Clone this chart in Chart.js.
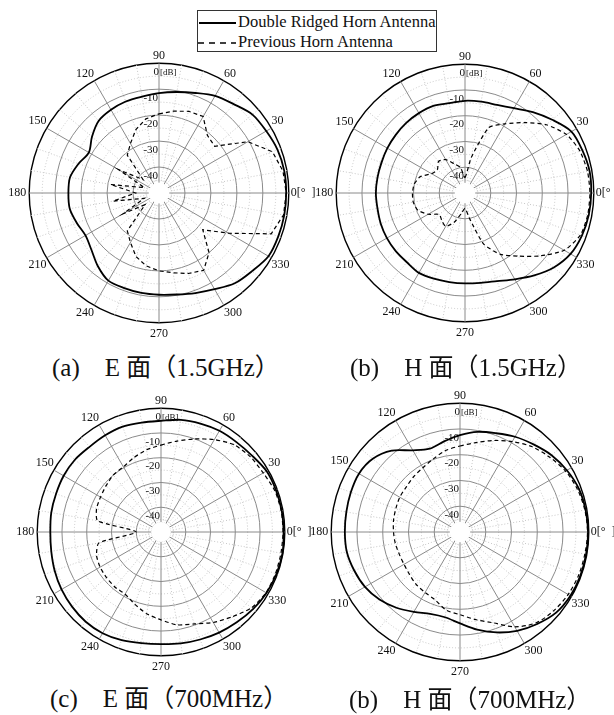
<!DOCTYPE html>
<html lang="ja">
<head>
<meta charset="utf-8">
<title>Radiation patterns</title>
<script src="https://cdn.jsdelivr.net/npm/chart.js@4.4.1/dist/chart.umd.min.js"></script>
<style>
  html, body { margin: 0; padding: 0; background: #fff; }
  #page { position: relative; width: 614px; height: 715px; overflow: hidden; font-family: "Liberation Serif", "Noto Sans CJK JP", serif; color: #111; }
  #page canvas { position: absolute; }
  .caption { position: absolute; font-size: 25px; line-height: 25px; white-space: nowrap; }
  #legend { position: absolute; left: 197px; top: 10px; width: 240px; height: 42px; box-sizing: border-box; border: 1px solid #333; background: #fff; font-size: 16.5px; z-index: 2; }
  #legend .row { position: absolute; left: 0; height: 18px; line-height: 18px; white-space: nowrap; }
  #legend svg { vertical-align: middle; }
</style>
</head>
<body>
<div id="page">
  <div id="legend">
    <div class="row" style="top:2px"><svg width="40" height="10"><line x1="1" y1="5" x2="38" y2="5" stroke="#000" stroke-width="2"/></svg>Double Ridged Horn Antenna</div>
    <div class="row" style="top:22px"><svg width="40" height="10"><line x1="0" y1="5" x2="38" y2="5" stroke="#000" stroke-width="1.3" stroke-dasharray="6 5"/></svg>Previous Horn Antenna</div>
  </div>

  <canvas id="chartA" width="365" height="295" style="left:-23px; top:48px"></canvas>
  <canvas id="chartB" width="363" height="293" style="left:284px; top:49px"></canvas>
  <canvas id="chartC" width="353" height="283" style="left:-15px; top:393px"></canvas>
  <canvas id="chartD" width="363" height="293" style="left:279px; top:388px"></canvas>

  <div class="caption" style="left:52px; top:355px">(a)　E 面（1.5GHz）</div>
  <div class="caption" style="left:350px; top:355px">(b)　H 面（1.5GHz）</div>
  <div class="caption" style="left:50px; top:686px">(c)　E 面（700MHz）</div>
  <div class="caption" style="left:349px; top:687px">(b)　H 面（700MHz）</div>
</div>

<script>
// angles in degrees, counter-clockwise from the right (0 = boresight)
const ANGLES = [0, 10, 20, 30, 40, 50, 60, 70, 80, 90, 100, 110,
                120, 130, 140, 150, 160, 170, 180, 190, 200, 210, 220, 230,
                240, 250, 260, 270, 280, 290, 300, 310, 320, 330, 340, 350];
const ANGLE_LABELS = [0, 30, 60, 90, 120, 150, 180, 210, 240, 270, 300, 330];
const TICK_LABELS = [-40, -30, -20, -10, 0];
const HOLE_DB = -46;

// relative gain [dB], one value per entry of ANGLES
const e15Ridged = [-1, -1, -1.4, -2.3, -3, -5.3, -6.8, -9, -10.5, -11.5, -12.3, -12.5,
                   -13, -13.8, -16.3, -18.8, -17, -15.2, -15.1, -15.1, -16.3, -17.3, -16, -13.3,
                   -11, -11, -10.9, -10.8, -10.3, -9, -7.2, -4.6, -3.2, -1.3, -1.1, -1];
const e15Previous = [-1, -1.5, -3.5, -10.5, -22, -21, -16, -16.5, -18, -19.5, -21, -24,
                     -28, -31, -42, -32, -44, -31, -41, -32, -44, -34, -43, -31,
                     -28, -24, -21.5, -20, -18.8, -17, -15.6, -20, -28, -19, -4, -1.3];
const h15Ridged = [-1, -0.9, -1.5, -2.3, -5.8, -9, -12, -13.6, -14, -14.2, -14.6, -14,
                   -14.2, -14.5, -14.9, -15.2, -15.5, -15.5, -15.4, -15.5, -15.2, -15, -14.9, -14.9,
                   -14.2, -14.6, -14.9, -14.9, -14.6, -13.6, -11.3, -8.2, -5, -2.7, -1.7, -1.2];
const h15Previous = [-1.5, -1.7, -2.5, -4.5, -8.8, -14.3, -19, -23, -36, -44, -40, -38,
                     -35, -34, -36, -35, -31.5, -30, -29.6, -29.6, -30.5, -33.5, -37, -36,
                     -35, -38, -42, -44, -40, -29, -22.5, -18, -12, -5.5, -2.3, -1.6];
const e700Ridged = [-0.5, -0.5, -0.6, -0.8, -2, -2.6, -2.8, -3.4, -4, -5.1, -5.1, -4.7,
                    -4.9, -5.1, -4.6, -4.6, -4.9, -5, -5.3, -5, -4.3, -3.6, -3.1, -2.7,
                    -2.8, -3.5, -4.4, -4.7, -4.3, -3.8, -3.1, -2.4, -1.5, -0.8, -0.4, -0.2];
const e700Previous = [-0.7, -0.7, -1.1, -2.3, -2.8, -4, -6.9, -10, -12.7, -14.9, -16.3, -18,
                      -19.6, -20, -21, -21.8, -22.3, -24, -40, -24.5, -22.3, -21.6, -21.3, -21,
                      -21, -19, -16.5, -14.5, -11.9, -10.5, -7.8, -5.3, -2.3, -1, -0.8, -0.8];
const h700Ridged = [-0.3, -0.5, -0.9, -2.1, -3.6, -5.6, -7.3, -9.2, -10.5, -12.4, -14.3, -15.6,
                    -13.4, -8.8, -5.8, -4.7, -4.9, -5.2, -5.3, -5.4, -6.3, -7.4, -9.2, -11.6,
                    -14.2, -16.2, -16.4, -14.5, -11.5, -8.5, -5.7, -3.4, -1.3, -0.5, -0.3, -0.3];
const h700Previous = [-0.5, -0.8, -1.5, -2.7, -4.7, -6.7, -9.5, -12.2, -14.8, -16.6, -17.9, -19.8,
                      -21.2, -22, -22.8, -23, -23.5, -23.8, -24.2, -24.5, -24.9, -24.9, -24.4, -23.5,
                      -22.9, -21.9, -19.2, -17.9, -15.5, -12.5, -7.5, -4, -2.5, -1.5, -1, -0.8];

// the radar scale runs clockwise from the top, the plot runs counter-clockwise from the right
const chartAngles = ANGLES.map(a => (450 - a) % 360);
function toChartOrder(values) {
  return chartAngles.map(a => values[ANGLES.indexOf(a)]);
}

// white hole in the middle and the [dB] unit next to the 0 tick
const polarDecor = {
  id: 'polarDecor',
  beforeDatasetsDraw(chart) {
    const s = chart.scales.r;
    const ctx = chart.ctx;
    ctx.save();
    ctx.beginPath();
    ctx.arc(s.xCenter, s.yCenter, s.getDistanceFromCenterForValue(HOLE_DB), 0, Math.PI * 2);
    ctx.fillStyle = '#fff';
    ctx.fill();
    ctx.restore();
  },
  afterDraw(chart) {
    const s = chart.scales.r;
    const ctx = chart.ctx;
    ctx.save();
    ctx.font = '9px "Liberation Serif"';
    ctx.fillStyle = '#111';
    ctx.textBaseline = 'middle';
    ctx.fillText('[dB]', s.xCenter + 1, s.yCenter - s.drawingArea + 9);
    ctx.restore();
  }
};

function labelPadding(ctx) {
  const a = chartAngles[ctx.index];
  if (a === 270) return -1.7;
  if (a === 180) return -2.5;
  if (a === 0) return -3.5;
  return -5.5;
}

function makeChart(id, ridged, previous, previousTension) {
  return new Chart(document.getElementById(id), {
    type: 'radar',
    data: {
      labels: chartAngles,
      datasets: [
        {
          label: 'Double Ridged Horn Antenna',
          data: toChartOrder(ridged),
          borderColor: '#000',
          borderWidth: 1.8,
          tension: 0.3,
          fill: false
        },
        {
          label: 'Previous Horn Antenna',
          data: toChartOrder(previous),
          borderColor: '#000',
          borderWidth: 1.2,
          borderDash: [4, 3],
          tension: previousTension,
          fill: false
        }
      ]
    },
    options: {
      responsive: false,
      animation: false,
      events: [],
      plugins: { legend: { display: false }, tooltip: { enabled: false } },
      elements: { point: { radius: 0 } },
      scales: {
        r: {
          min: -50,
          max: 0,
          startAngle: 0,
          ticks: {
            stepSize: 5,
            showLabelBackdrop: false,
            backdropPadding: 0,
            color: '#111',
            font: { family: 'Liberation Serif', size: 11, lineHeight: 0.8 },
            // trailing spaces push the centred label to the left of the axis
            callback: v => TICK_LABELS.includes(v) ? ['', v === 0 ? '0  ' : v + '      '] : ''
          },
          grid: {
            circular: true,
            color: c => c.tick.value === 0 ? '#000' : (c.tick.value % 10 === 0 ? '#8a8a8a' : '#c6c6c6'),
            lineWidth: c => c.tick.value === 0 ? 1.4 : 1
          },
          border: {
            dash: c => (c.tick && c.tick.value % 10 !== 0) ? [1, 2] : []
          },
          angleLines: {
            color: c => chartAngles[c.index] % 30 === 0 ? '#8a8a8a' : '#c6c6c6',
            lineWidth: 1,
            borderDash: c => chartAngles[c.index] % 30 === 0 ? [] : [1, 2]
          },
          pointLabels: {
            color: '#111',
            font: { family: 'Liberation Serif', size: 12 },
            padding: labelPadding,
            callback: v => ANGLE_LABELS.includes(v) ? (v === 0 ? '0[°  ]' : String(v)) : ''
          }
        }
      }
    },
    plugins: [polarDecor]
  });
}

makeChart('chartA', e15Ridged, e15Previous, 0);
makeChart('chartB', h15Ridged, h15Previous, 0.2);
makeChart('chartC', e700Ridged, e700Previous, 0.2);
makeChart('chartD', h700Ridged, h700Previous, 0.3);
</script>
</body>
</html>
